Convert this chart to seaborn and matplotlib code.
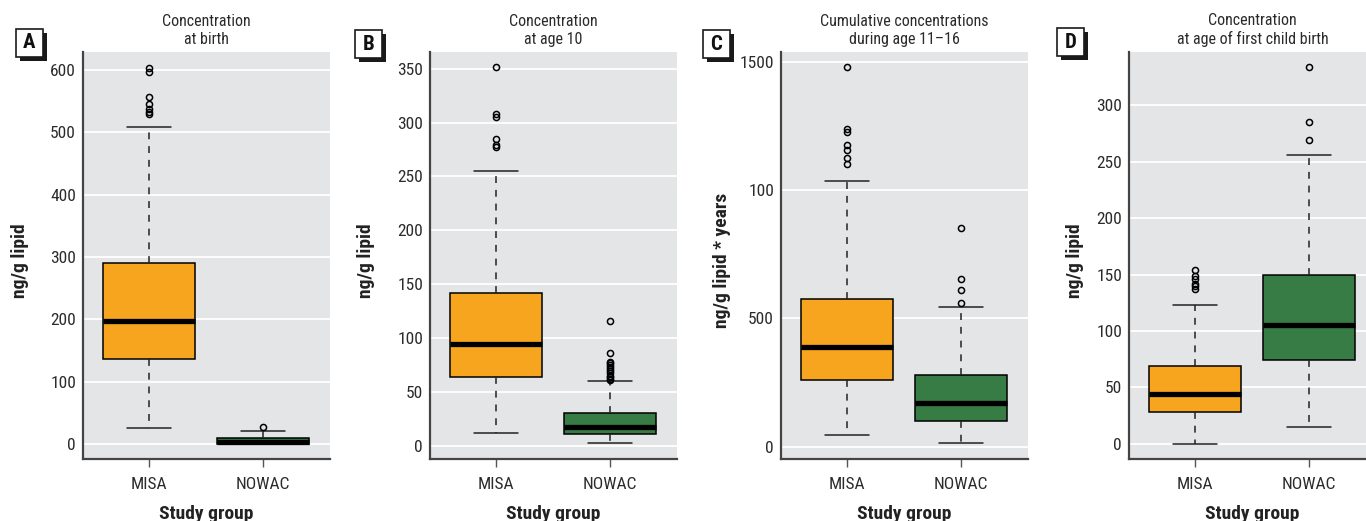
import matplotlib
matplotlib.use("Agg")
import numpy as np
import pandas as pd
import seaborn as sns
import matplotlib.pyplot as plt
from matplotlib.patches import Rectangle
from matplotlib import font_manager

# ---------------- data ----------------
groups = ["MISA", "NOWAC"]
panel_letters = ["A", "B", "C", "D"]
titles = ["Concentration\nat birth",
          "Concentration\nat age 10",
          "Cumulative concentrations\nduring age 11\u201316",
          "Concentration\nat age of first child birth"]
ylabels = ["ng/g lipid", "ng/g lipid", "ng/g lipid * years", "ng/g lipid"]
xlabel = "Study group"

# five-number summaries: [lower whisker, Q1, median, Q3, upper whisker]
a_misa = [26, 136, 198, 290, 509]
a_misa_out = [604, 597, 557, 546, 537, 532, 529]
a_nowac = [0, 0.5, 4, 10, 21]
a_nowac_out = [27.5]

b_misa = [12, 64, 94.5, 142, 255]
b_misa_out = [352, 308, 305, 285, 279, 277]
b_nowac = [2, 10.8, 17.7, 30.7, 59.8]
b_nowac_out = [116, 86, 78, 77, 75, 73, 71, 69, 67, 65, 64, 62, 61]

c_misa = [44, 260, 387, 577, 1034]
c_misa_out = [1478, 1238, 1225, 1176, 1155, 1125, 1100]
c_nowac = [13, 99, 171, 278, 545]
c_nowac_out = [850, 653, 609, 558]

d_misa = [0, 28, 44, 69, 123]
d_misa_out = [154, 149, 146, 142, 140, 137]
d_nowac = [15.4, 74, 105.6, 149.4, 256]
d_nowac_out = [334, 285, 269]

yticks_a = [0, 100, 200, 300, 400, 500, 600]
yticks_b = [0, 50, 100, 150, 200, 250, 300, 350]
yticks_c = [0, 500, 1000, 1500]
yticklabels_c = ["0", "500", "100", "1500"]
yticks_d = [0, 50, 100, 150, 200, 250, 300]

panels = [
    ((a_misa, a_misa_out), (a_nowac, a_nowac_out), yticks_a, [str(t) for t in yticks_a], (-24, 629)),
    ((b_misa, b_misa_out), (b_nowac, b_nowac_out), yticks_b, [str(t) for t in yticks_b], (-12.4, 365.5)),
    ((c_misa, c_misa_out), (c_nowac, c_nowac_out), yticks_c, yticklabels_c, (-48, 1537)),
    ((d_misa, d_misa_out), (d_nowac, d_nowac_out), yticks_d, [str(t) for t in yticks_d], (-13.3, 347)),
]

# ---------------- style ----------------
sns.set_theme(style="darkgrid")

# look for a condensed sans face (reference uses a condensed font)
fl = font_manager.fontManager.ttflist
names = {f.name for f in fl}
family = None
stretch = "normal"
for cand in ["Liberation Sans Narrow", "Roboto Condensed", "Open Sans Condensed",
             "Noto Sans Condensed", "DejaVu Sans Condensed", "Arial Narrow"]:
    if cand in names:
        family = cand
        break
if family is None:
    for pref in ["Roboto", "Noto Sans", "Open Sans", "DejaVu Sans", "Liberation Sans"]:
        hits = [f for f in fl if f.name == pref and f.stretch in
                ("condensed", "semi-condensed", "extra-condensed", "ultra-condensed")]
        if hits:
            family = pref
            stretch = hits[0].stretch
            break
if family is None:
    family = "Liberation Sans"
plt.rcParams["font.family"] = [family, "DejaVu Sans"]
plt.rcParams["font.stretch"] = stretch

BG = "#E4E5E7"
ORANGE = "#F7A51E"
GREEN = "#377B45"
TXT = "#2b2b2b"
colors = [ORANGE, GREEN]

W, H = 1366, 521
fig = plt.figure(figsize=(W / 100, H / 100), dpi=100)
fig.patch.set_facecolor("white")

def fx(px):
    return px / W

def fy(py):
    return 1 - py / H

ax_lefts = [83, 430, 781, 1129]
ax_w = 247
ax_top, ax_bot = 52, 459
label_boxes = [(16, 29), (355, 30), (703, 30), (1057, 28)]
ylabel_x = [20, 366, 722, 1075]

for i, (g1, g2, yt, ytl, ylim) in enumerate(panels):
    left = ax_lefts[i]
    ax = fig.add_axes([fx(left), fy(ax_bot), ax_w / W, (ax_bot - ax_top) / H])
    ax.set_facecolor(BG)
    stats = []
    for name, (summ, outs) in zip(groups, [g1, g2]):
        stats.append(dict(label=name, whislo=summ[0], q1=summ[1], med=summ[2],
                          q3=summ[3], whishi=summ[4], fliers=np.array(outs)))
    bp = ax.bxp(stats, positions=[1, 2], widths=0.81, capwidths=0.39,
                patch_artist=True, showfliers=True,
                boxprops=dict(edgecolor="black", linewidth=1.1),
                medianprops=dict(color="black", linewidth=3.8, solid_capstyle="butt"),
                whiskerprops=dict(color="#222222", linewidth=1.1, linestyle=(0, (4.5, 4.5))),
                capprops=dict(color="#222222", linewidth=1.1),
                flierprops=dict(marker="o", markersize=4.4, markerfacecolor="none",
                                markeredgecolor="black", markeredgewidth=1.1, linestyle="none"))
    for patch, c in zip(bp["boxes"], colors):
        patch.set_facecolor(c)
    ax.set_xlim(0.42, 2.59)
    ax.set_ylim(*ylim)
    ax.set_yticks(yt)
    ax.set_yticklabels(ytl)
    ax.set_xticks([1, 2])
    ax.set_xticklabels(groups)
    ax.grid(axis="y", color="white", linewidth=1.3)
    ax.grid(axis="x", visible=False)
    for s in ["top", "right"]:
        ax.spines[s].set_visible(False)
    for s in ["left", "bottom"]:
        ax.spines[s].set_visible(True)
        ax.spines[s].set_color("#444444")
        ax.spines[s].set_linewidth(1.6)
    ax.tick_params(axis="y", length=0, pad=5, labelsize=12.5, labelcolor=TXT)
    ax.tick_params(axis="x", length=6, width=1, color="#555555", pad=7,
                   labelsize=12.5, labelcolor=TXT, bottom=True)
    ax.set_xlabel(xlabel, fontsize=14, fontweight="bold", color="#222222", labelpad=9)
    ax.set_ylabel("")
    fig.text(fx(ylabel_x[i]), fy((ax_top + ax_bot) / 2 + 5), ylabels[i], rotation=90,
             ha="center", va="center", fontsize=14, fontweight="bold", color="#222222")
    ax.set_title(titles[i], fontsize=11.5, color=TXT, pad=6, linespacing=1.2)

    # panel letter box with drop shadow
    bx, by = label_boxes[i]
    bw, bh = 27, 28
    fig.add_artist(Rectangle((fx(bx + 4), fy(by + bh + 4)), bw / W, bh / H,
                             transform=fig.transFigure, facecolor="#1a1a1a",
                             edgecolor="none", zorder=5))
    fig.add_artist(Rectangle((fx(bx), fy(by + bh)), bw / W, bh / H,
                             transform=fig.transFigure, facecolor="white",
                             edgecolor="#1a1a1a", linewidth=1.2, zorder=6))
    fig.text(fx(bx + bw / 2), fy(by + bh / 2), panel_letters[i], ha="center", va="center",
             fontsize=15, fontweight="bold", color="#111111", zorder=7)

fig.savefig("out.png", dpi=100, facecolor="white")
